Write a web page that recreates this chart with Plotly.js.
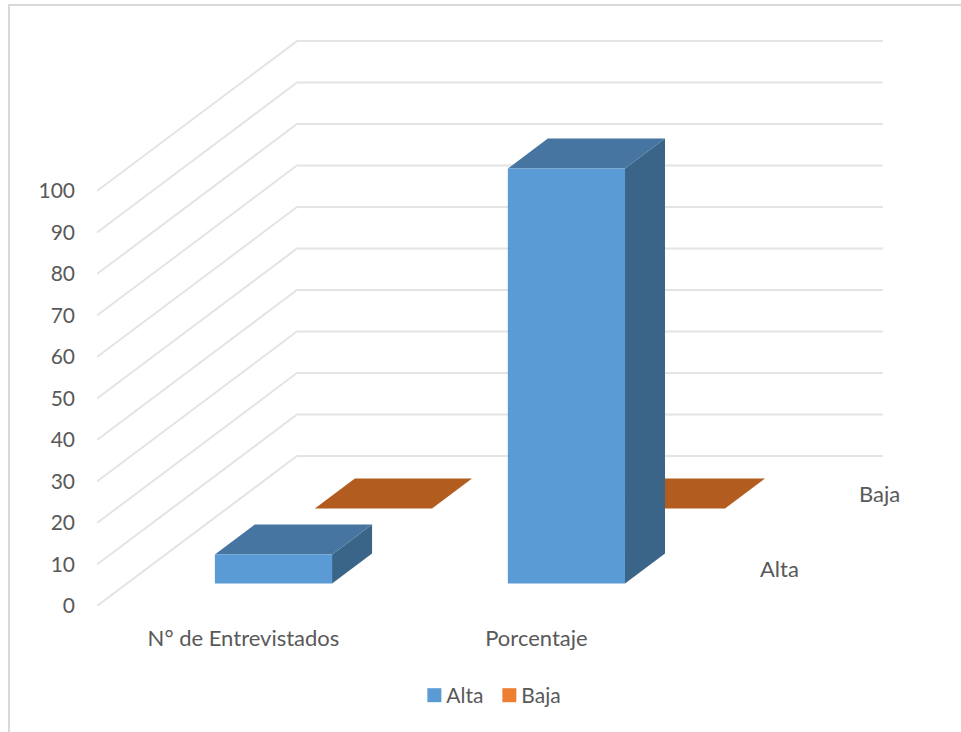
<!DOCTYPE html>
<html>
<head>
<meta charset="utf-8">
<script src="https://cdn.plot.ly/plotly-3.0.1.min.js"></script>
<style>
html,body{margin:0;padding:0;background:#fff;overflow:hidden}
#frame{position:absolute;left:8px;top:4px;width:980px;height:760px;border:2px solid #D9D9D9}
#chart{position:absolute;left:0;top:0;width:961px;height:732px}
</style>
</head>
<body>
<div id="frame"></div>
<div id="chart"></div>
<script>
// Data
const categories = ['N° de Entrevistados', 'Porcentaje'];
const seriesNames = ['Alta', 'Baja'];
const altaValues = [7, 100];
const bajaValues = [0, 0];
const yTicks = [0, 10, 20, 30, 40, 50, 60, 70, 80, 90, 100];

// Colours per series
const frontColors = ['#5B9BD5', '#ED7D31'];
const topColors = ['#4575A0', '#B25C20'];
const sideColors = ['#3A6488', '#9A4F1B'];

// Oblique projection of (category, depth, value) into the axes' units
const DEPTH_X = 0.6826, DEPTH_Y = 36.14;
const BAR_HALF = 0.2, DEPTH_HALF = 0.1;
const depthCentre = [0.25, 0.75];
const proj = (c, d, v) => [c + d * DEPTH_X, v + d * DEPTH_Y];

function poly(points, color) {
  const p = points.map(a => proj(a[0], a[1], a[2]));
  return {
    type: 'scatter', mode: 'lines', x: p.map(a => a[0]), y: p.map(a => a[1]),
    fill: 'toself', fillcolor: color, line: {width: 0, color: color},
    hoverinfo: 'skip', showlegend: false
  };
}

const traces = [];
// Wall grid lines
yTicks.forEach(v => {
  const p = [proj(0, 0, v), proj(0, 1, v), proj(2, 1, v)];
  traces.push({
    type: 'scatter', mode: 'lines', x: p.map(a => a[0]), y: p.map(a => a[1]),
    line: {color: '#E4E4E4', width: 2}, hoverinfo: 'skip', showlegend: false
  });
});
// Bars, back series first
[[1, bajaValues], [0, altaValues]].forEach(([s, vals]) => {
  vals.forEach((v, i) => {
    const c0 = i + 0.5 - BAR_HALF, c1 = i + 0.5 + BAR_HALF;
    const d0 = depthCentre[s] - DEPTH_HALF, d1 = depthCentre[s] + DEPTH_HALF;
    traces.push(poly([[c1, d0, 0], [c1, d1, 0], [c1, d1, v], [c1, d0, v], [c1, d0, 0]], sideColors[s]));
    traces.push(poly([[c0, d0, v], [c0, d1, v], [c1, d1, v], [c1, d0, v], [c0, d0, v]], topColors[s]));
    traces.push(poly([[c0, d0, 0], [c1, d0, 0], [c1, d0, v], [c0, d0, v], [c0, d0, 0]], frontColors[s]));
  });
});
// Legend entries
seriesNames.forEach((n, s) => {
  traces.push({
    type: 'scatter', mode: 'markers', name: n, x: [null], y: [null],
    marker: {symbol: 'square', size: 14, color: frontColors[s]}
  });
});

const fontFamily = 'Lato, sans-serif';
const labelFont = {family: fontFamily, size: 22, color: '#595959'};
const tickFont = {family: fontFamily, size: 21, color: '#595959'};
const depthLabels = seriesNames.map((n, s) => {
  const p = proj(2, depthCentre[s], 0);
  return {
    x: p[0], y: p[1], text: n, showarrow: false, xanchor: 'center', yanchor: 'middle',
    xshift: 47, yshift: 0, font: labelFont
  };
});

const layout = {
  width: 961, height: 732,
  margin: {l: 97, r: 78, t: 40, b: 126, pad: 0},
  paper_bgcolor: 'rgba(0,0,0,0)', plot_bgcolor: 'rgba(0,0,0,0)',
  showlegend: true,
  legend: {
    orientation: 'h', x: 0.489, xanchor: 'center', xref: 'paper',
    y: -0.122, yanchor: 'top', font: tickFont, itemwidth: 30,
    entrywidth: 30, entrywidthmode: 'pixels',
    traceorder: 'normal', itemclick: false, itemdoubleclick: false
  },
  xaxis: {
    range: [0, 2.683], showgrid: false, zeroline: false, showline: false,
    tickmode: 'array', tickvals: [0.5, 1.5], ticktext: categories,
    ticks: '', tickfont: labelFont, ticklabelstandoff: 17, fixedrange: true
  },
  yaxis: {
    range: [0, 136.4], showgrid: false, zeroline: false, showline: false,
    tickmode: 'array', tickvals: yTicks, ticktext: yTicks.map(String),
    ticks: '', tickfont: tickFont, ticklabelstandoff: 21, fixedrange: true
  },
  annotations: depthLabels
};

Plotly.newPlot('chart', traces, layout, {staticPlot: true, displayModeBar: false}).then(() => {
  // Sit the legend swatches closer to their labels and keep the last label unclipped
  document.querySelectorAll('.legend .legendsymbols').forEach(el => el.setAttribute('transform', 'translate(8,0)'));
  document.querySelectorAll('.legend .scrollbox').forEach(el => el.removeAttribute('clip-path'));
});
</script>
</body>
</html>
